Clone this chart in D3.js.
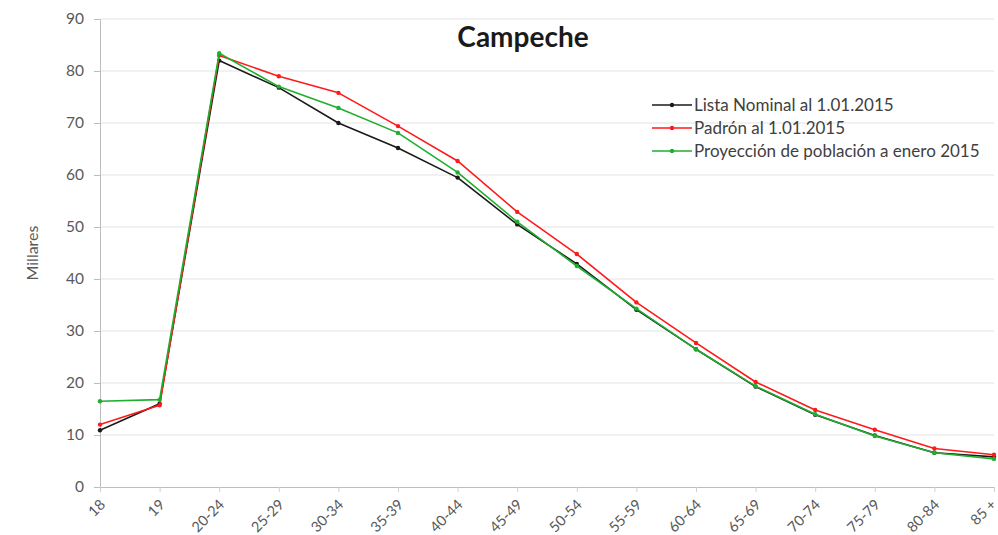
<!DOCTYPE html>
<html>
<head>
<meta charset="utf-8">
<script src="https://cdn.jsdelivr.net/npm/d3@7"></script>
<style>
  body { margin: 0; background: #fff; }
  svg { display: block; font-family: Lato, "Open Sans", "Liberation Sans", sans-serif; }
</style>
</head>
<body>
<div id="chart"></div>
<script>
// Grupos de edad
const categories = ["18", "19", "20-24", "25-29", "30-34", "35-39", "40-44", "45-49",
  "50-54", "55-59", "60-64", "65-69", "70-74", "75-79", "80-84", "85 +"];

// Valores en millares
const listaNominal = [10.9, 16.0, 82.0, 76.8, 70.0, 65.2, 59.5, 50.5, 42.9, 34.1, 26.5, 19.3, 13.9, 9.9, 6.6, 5.8];
const padron       = [12.0, 15.7, 83.0, 79.0, 75.8, 69.4, 62.7, 52.9, 44.8, 35.5, 27.7, 20.2, 14.8, 11.0, 7.4, 6.2];
const proyeccion   = [16.5, 16.8, 83.4, 77.0, 72.9, 68.1, 60.5, 51.0, 42.5, 34.3, 26.5, 19.4, 14.0, 9.8, 6.6, 5.4];

const seriesNames = ["Lista Nominal al 1.01.2015", "Padrón al 1.01.2015", "Proyección de población a enero 2015"];
const seriesColors = ["#1a1a1a", "#ff1a1a", "#1fae2f"];
const yTicks = [0, 10, 20, 30, 40, 50, 60, 70, 80, 90];

const width = 998, height = 535;
const margin = { top: 19, right: 4, bottom: 48, left: 100 };

const series = [listaNominal, padron, proyeccion].map((vals, i) => ({
  name: seriesNames[i],
  color: seriesColors[i],
  values: vals.map((v, j) => ({ cat: categories[j], v }))
}));

const svg = d3.select("#chart").append("svg")
  .attr("width", width)
  .attr("height", height);

const x = d3.scalePoint()
  .domain(categories)
  .range([margin.left, width - margin.right]);

const y = d3.scaleLinear()
  .domain([0, 90])
  .range([height - margin.bottom, margin.top]);

// Gridlines
svg.append("g")
  .selectAll("line")
  .data(yTicks.slice(1))
  .join("line")
  .attr("x1", margin.left)
  .attr("x2", width - margin.right)
  .attr("y1", d => y(d))
  .attr("y2", d => y(d))
  .attr("stroke", "#e3e3e3")
  .attr("stroke-width", 1);

// Y axis
const yAxis = svg.append("g")
  .attr("transform", `translate(${margin.left},0)`)
  .call(d3.axisLeft(y).tickValues(yTicks).tickSize(6).tickPadding(10));
yAxis.select(".domain").attr("stroke", "#bdbdbd");
yAxis.selectAll(".tick line").attr("stroke", "#bdbdbd");
yAxis.selectAll("text")
  .attr("fill", "#595959")
  .attr("font-size", 15.5)
  .attr("font-family", "Lato, 'Open Sans', sans-serif");

// X axis
const xAxis = svg.append("g")
  .attr("transform", `translate(0,${y(0)})`)
  .call(d3.axisBottom(x).tickSize(5).tickPadding(6));
xAxis.select(".domain").attr("stroke", "#bdbdbd");
xAxis.selectAll(".tick line").attr("stroke", "#d0d0d0");
xAxis.selectAll("text")
  .attr("fill", "#595959")
  .attr("font-size", 14.5)
  .attr("font-family", "Lato, 'Open Sans', sans-serif")
  .attr("text-anchor", "end")
  .attr("y", 0)
  .attr("dy", "0.35em")
  .attr("transform", (d, i, n) => i === n.length - 1 ? "translate(-1,15) rotate(-45)" : "translate(2,15) rotate(-45)");

// Axis title
svg.append("text")
  .attr("transform", `translate(38,${(y(0) + y(90)) / 2}) rotate(-90)`)
  .attr("text-anchor", "middle")
  .attr("fill", "#595959")
  .attr("font-size", 16)
  .text("Millares");

// Chart title
svg.append("text")
  .attr("x", 523)
  .attr("y", 47)
  .attr("text-anchor", "middle")
  .attr("font-size", 28)
  .attr("font-weight", "bold")
  .attr("fill", "#1a1a1a")
  .text("Campeche");

// Lines
const line = d3.line()
  .x(d => x(d.cat))
  .y(d => y(d.v));

const gSeries = svg.append("g")
  .selectAll("g")
  .data(series)
  .join("g");

gSeries.append("path")
  .attr("d", d => line(d.values))
  .attr("fill", "none")
  .attr("stroke", d => d.color)
  .attr("stroke-width", 1.6)
  .attr("stroke-linejoin", "round");

gSeries.selectAll("circle")
  .data(d => d.values.map(p => ({ ...p, color: d.color })))
  .join("circle")
  .attr("cx", d => x(d.cat))
  .attr("cy", d => y(d.v))
  .attr("r", 2.2)
  .attr("fill", d => d.color);

// Legend
const legend = svg.append("g")
  .selectAll("g")
  .data(series)
  .join("g")
  .attr("transform", (d, i) => `translate(652,${105 + i * 23})`);

legend.append("line")
  .attr("x1", 0).attr("x2", 40)
  .attr("stroke", d => d.color)
  .attr("stroke-width", 1.6);
legend.append("circle")
  .attr("cx", 20).attr("r", 2.2)
  .attr("fill", d => d.color);
legend.append("text")
  .attr("x", 42)
  .attr("dy", "0.35em")
  .attr("font-size", 17)
  .attr("fill", "#404040")
  .text(d => d.name);
</script>
</body>
</html>
